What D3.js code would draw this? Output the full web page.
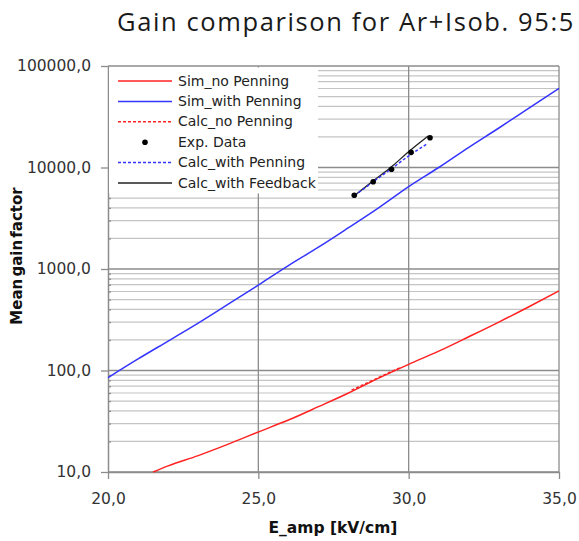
<!DOCTYPE html>
<html>
<head>
<meta charset="utf-8">
<script src="https://cdn.jsdelivr.net/npm/d3@7"></script>
<style>
  body { margin: 0; background: #fff; }
  svg { display: block; }
</style>
</head>
<body>
<div id="chart"></div>
<script>
// values
var simNoE = [21.5, 22, 23, 24, 25, 26, 27, 28, 29, 30, 31, 32, 33, 34, 35];
var simNoG = [10, 11.5, 14.5, 18.8, 24.8, 32.5, 44, 60, 84, 115, 155, 215, 300, 425, 610];

var simPenE = [20, 21, 22, 23, 24, 25, 26, 27, 28, 29, 30, 31, 32, 33, 34, 35];
var simPenG = [85, 130, 195, 293, 450, 695, 1080, 1640, 2550, 4000, 6470, 10000, 15800, 24500, 38500, 60300];

var calcNoE = [28.1, 28.6, 29.1, 29.7];
var calcNoG = [64, 75, 88, 106];

var expE = [28.19, 28.82, 29.43, 30.08, 30.71];
var expG = [5320, 7245, 9600, 14100, 19660];

var calcPenE = [28.2, 28.8, 29.4, 30.0, 30.6];
var calcPenG = [5300, 7150, 9600, 13000, 17000];

var calcFbE = [28.2, 28.8, 29.4, 30.0, 30.65];
var calcFbG = [5300, 7300, 10000, 14300, 20400];

var xTicks = [20, 25, 30, 35];
var yTicks = [10, 100, 1000, 10000, 100000];

var legendNames = ["Sim_no Penning", "Sim_with Penning", "Calc_no Penning", "Exp. Data", "Calc_with Penning", "Calc_with Feedback"];

function zip(xs, ys) {
  return xs.map((v, i) => ({ E: v, G: ys[i] }));
}

const W = 579, H = 541;
const margin = { top: 66, right: 20, bottom: 69, left: 108 };

const svg = d3.select("#chart").append("svg")
  .attr("width", W)
  .attr("height", H);

const x = d3.scaleLinear()
  .domain([20, 35])
  .range([margin.left, W - margin.right]);

const y = d3.scaleLog()
  .domain([10, 100000])
  .range([H - margin.bottom, margin.top]);

const fmt = d => d3.format(".1f")(d).replace(".", ",");

// minor values 2..9 in each decade
var minors = [];
yTicks.slice(0, -1).forEach(d => {
  for (let k = 2; k <= 9; k++) minors.push(d * k);
});

// grid
const grid = svg.append("g");
grid.selectAll(".minor")
  .data(minors)
  .enter().append("line")
  .attr("x1", x(20)).attr("x2", x(35))
  .attr("y1", d => y(d)).attr("y2", d => y(d))
  .attr("stroke", "#c4c4c4")
  .attr("stroke-width", 1.2);

grid.selectAll(".major")
  .data(yTicks)
  .enter().append("line")
  .attr("x1", x(20)).attr("x2", x(35))
  .attr("y1", d => y(d)).attr("y2", d => y(d))
  .attr("stroke", "#8c8c8c")
  .attr("stroke-width", 1.3);

grid.selectAll(".vline")
  .data(xTicks.slice(1))
  .enter().append("line")
  .attr("x1", d => x(d)).attr("x2", d => x(d))
  .attr("y1", y(10)).attr("y2", y(100000))
  .attr("stroke", "#8c8c8c")
  .attr("stroke-width", 1.3);

// axes
svg.append("g")
  .attr("transform", `translate(${margin.left},0)`)
  .call(d3.axisLeft(y).tickValues(yTicks).tickFormat(fmt).tickSizeInner(7).tickSizeOuter(0).tickPadding(10));

svg.append("g")
  .attr("transform", `translate(${margin.left},0)`)
  .call(d3.axisRight(y).tickValues(minors).tickFormat("").tickSizeInner(3).tickSizeOuter(0))
  .call(g => g.select(".domain").remove());

svg.append("g")
  .attr("transform", `translate(0,${H - margin.bottom})`)
  .call(d3.axisBottom(x).tickValues(xTicks).tickFormat(fmt).tickSizeInner(7).tickSizeOuter(0).tickPadding(14));

svg.selectAll(".tick line").attr("stroke", "#8c8c8c").attr("stroke-width", 1.3);
svg.selectAll(".domain").attr("stroke", "#8c8c8c").attr("stroke-width", 1.5);
svg.selectAll(".tick text")
  .attr("font-family", "DejaVu Sans")
  .attr("font-size", 15.5)
  .attr("fill", "#333");

// curves
const line = d3.line()
  .x(d => x(d.E))
  .y(d => y(d.G))
  .curve(d3.curveMonotoneX);

const plot = svg.append("g");

plot.append("path").datum(zip(simNoE, simNoG))
  .attr("fill", "none").attr("stroke", "#ff2222").attr("stroke-width", 1.5)
  .attr("d", line);

plot.append("path").datum(zip(calcNoE, calcNoG))
  .attr("fill", "none").attr("stroke", "#ff2222").attr("stroke-width", 1.5)
  .attr("stroke-dasharray", "3,2")
  .attr("d", line);

plot.append("path").datum(zip(simPenE, simPenG))
  .attr("fill", "none").attr("stroke", "#3535ff").attr("stroke-width", 1.5)
  .attr("d", line);

plot.append("path").datum(zip(calcFbE, calcFbG))
  .attr("fill", "none").attr("stroke", "#222").attr("stroke-width", 1.3)
  .attr("d", line);

plot.append("path").datum(zip(calcPenE, calcPenG))
  .attr("fill", "none").attr("stroke", "#3535ff").attr("stroke-width", 1.5)
  .attr("stroke-dasharray", "3,2")
  .attr("d", line);

plot.selectAll(".exp")
  .data(zip(expE, expG))
  .enter().append("circle")
  .attr("cx", d => x(d.E))
  .attr("cy", d => y(d.G))
  .attr("r", 2.8)
  .attr("fill", "#000");

// legend
const lg = svg.append("g");
lg.append("rect")
  .attr("x", margin.left + 1).attr("y", margin.top + 1.5)
  .attr("width", 209).attr("height", 126)
  .attr("fill", "#fff");

var legendStyle = [
  { c: "#ff2222", dash: null },
  { c: "#3535ff", dash: null },
  { c: "#ff2222", dash: "3,2" },
  { c: "#000", dash: "dot" },
  { c: "#3535ff", dash: "3,2" },
  { c: "#222", dash: null }
];

legendNames.forEach((name, i) => {
  const ry = 81 + i * 20.4;
  const st = legendStyle[i];
  if (st.dash === "dot") {
    lg.append("circle").attr("cx", 145).attr("cy", ry).attr("r", 2.8).attr("fill", st.c);
  } else {
    lg.append("line")
      .attr("x1", 118).attr("x2", 172)
      .attr("y1", ry).attr("y2", ry)
      .attr("stroke", st.c).attr("stroke-width", 1.5)
      .attr("stroke-dasharray", st.dash);
  }
  lg.append("text")
    .attr("x", 178).attr("y", ry + 4.5)
    .attr("font-family", "DejaVu Sans")
    .attr("font-size", 14)
    .attr("fill", "#222")
    .text(name);
});

// titles
svg.append("text")
  .attr("x", 346).attr("y", 31)
  .attr("text-anchor", "middle")
  .attr("font-family", "Open Sans")
  .attr("font-size", 25.5)
  .attr("letter-spacing", 1.6)
  .attr("fill", "#1a1a1a")
  .text("Gain comparison for Ar+Isob. 95:5");

svg.append("text")
  .attr("x", 333).attr("y", 533)
  .attr("text-anchor", "middle")
  .attr("font-family", "DejaVu Sans")
  .attr("font-weight", "bold")
  .attr("font-size", 15.5)
  .attr("fill", "#111")
  .text("E_amp [kV/cm]");

svg.append("text")
  .attr("transform", "translate(22,256) rotate(-90)")
  .attr("text-anchor", "middle")
  .attr("font-family", "DejaVu Sans")
  .attr("font-weight", "bold")
  .attr("font-size", 15)
  .attr("fill", "#111")
  .attr("word-spacing", -3)
  .text("Mean gain factor");
</script>
</body>
</html>
